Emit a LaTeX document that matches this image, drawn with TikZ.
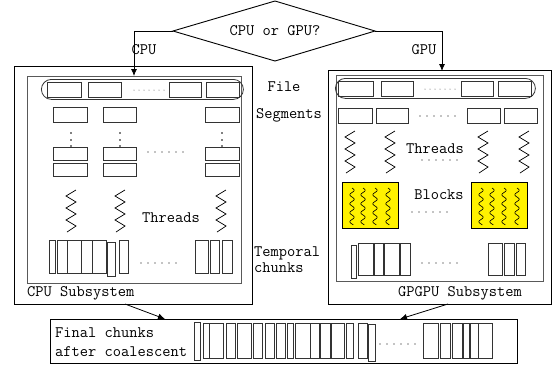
\documentclass[tikz,border=0pt]{standalone}
\usepackage{fontspec}
\usetikzlibrary{arrows.meta}
\newcommand\mycell[4]{\draw[cell] (#1,#2) rectangle (#3,#4);}
\newcommand\mywave[2]{\draw[line width=0.6pt] plot[domain=0:37,samples=60,smooth] ({#1+2.2*sin(\x*40)},{#2+\x});}
\newcommand\mydot[2]{\fill (#1,#2) circle (0.9pt);}
\begin{document}
\begin{tikzpicture}[x=1pt,y=-1pt,
  every node/.style={font=\ttfamily\fontsize{16}{18}\selectfont, inner sep=0pt},
  box/.style={draw, line width=0.9pt},
  inbox/.style={draw=black!65, line width=0.9pt},
  cell/.style={draw=black!80, line width=0.8pt},
  filerow/.style={draw=black!80, line width=0.8pt, rounded corners=10pt},
  dotrow/.style={line width=1.4pt, dash pattern=on 0pt off 7pt, line cap=round},
  smalldots/.style={line width=1pt, dash pattern=on 0pt off 5pt, line cap=round, black!70},
  arr/.style={line width=0.8pt, -{Latex[length=7pt,width=6pt]}},
  yel/.style={draw, fill=yellow, line width=0.8pt},
  zig/.pic={\draw[line width=0.7pt] (5,0) -- (-5,6) -- (5,12) -- (-5,18) -- (5,24) -- (-5,30) -- (5,36) -- (-4,42);},
]
\useasboundingbox (0,0) rectangle (555,368);
\fill[white] (0,0) rectangle (555,368);

% decision diamond
\coordinate (dl) at (173,31);
\coordinate (dt) at (275,1);
\coordinate (dr) at (375,31);
\coordinate (db) at (275,61);
\draw[box] (dl) -- (dt) -- (dr) -- (db) -- cycle;
\node (q) at (275,31) {CPU or GPU?};

% main boxes
\node[box, minimum width=238pt, minimum height=238pt, anchor=north west] (cpu) at (14,66) {};
\node[inbox, minimum width=214pt, minimum height=207pt, anchor=north west] (cpuin) at (27,76) {};
\node[box, minimum width=223pt, minimum height=234pt, anchor=north west] (gpu) at (328,70) {};
\node[inbox, minimum width=207pt, minimum height=206pt, anchor=north west] (gpuin) at (336,75) {};
\node[box, minimum width=467pt, minimum height=44pt, anchor=north west] (fin) at (50,319) {};

% connectors from decision
\coordinate (cpuentry) at (134,76);
\coordinate (gpuentry) at (442,71);
\draw[arr] (dl) -| (cpuentry);
\draw[arr] (dr) -| (gpuentry);
\node (cpulab) at (144,50) {CPU};
\node (gpulab) at (424,50) {GPU};

% middle labels
\node (lfile) at (284,87) {File};
\node (lseg) at (289,115) {Segments};
\node[anchor=west] (ltemp1) at (254,253) {Temporal};
\node[anchor=west] (ltemp2) at (254,268) {chunks};
\node[anchor=west] (lcpu) at (27,293) {CPU Subsystem};
\node[anchor=west] (lgpu) at (398,293) {GPGPU Subsystem};

% ---------------- CPU subsystem
\node[filerow, minimum width=202pt, minimum height=20pt, anchor=north west] (cfile) at (41,79) {};
\mycell{47}{82}{81}{97}\mycell{88}{82}{121}{97}\mycell{169}{82}{201}{97}\mycell{206}{82}{239}{97}
\draw[smalldots] (134,90) -- (164,90);
\foreach \a/\b in {53/87,103/136,205/239}{
  \mycell{\a}{107}{\b}{122}
  \mycell{\a}{147}{\b}{160}
  \mycell{\a}{163}{\b}{176}
}
\foreach \c in {71,120,222}{\mydot{\c}{133}\mydot{\c}{140}\mydot{\c}{146}}
\draw[dotrow] (148,152) -- (184,152);
\foreach \c in {71,120,221}{\pic at (\c,190) {zig};}
\node (cthr) at (171,218) {Threads};
\foreach \a/\b in {49/55,57/67,67/81,81/92,92/106,119/128,195/208,210/219,222/232}{\mycell{\a}{240}{\b}{273}}
\mycell{107}{242}{115}{276}
\draw[dotrow] (141,263) -- (177,263);

% ---------------- GPU subsystem
\node[filerow, minimum width=200pt, minimum height=20pt, anchor=north west] (gfile) at (335,78) {};
\mycell{338}{81}{373}{96}\mycell{381}{81}{413}{96}\mycell{461}{81}{493}{96}\mycell{498}{81}{531}{96}
\draw[smalldots] (425,89) -- (455,89);
\foreach \a/\b in {338/372,376/408,467/500,504/537}{\mycell{\a}{108}{\b}{123}}
\draw[dotrow] (420,116) -- (456,116);
\foreach \c in {350,390,483,524}{\pic at (\c,131) {zig};}
\node (gthr) at (435,149) {Threads};
\draw[dotrow] (422,160) -- (458,160);
\node[yel, minimum width=56pt, minimum height=46pt, anchor=north west] (blk1) at (342,182) {};
\node[yel, minimum width=56pt, minimum height=46pt, anchor=north west] (blk2) at (471,182) {};
\foreach \c in {352,363,375,388,481,492,504,517}{\mywave{\c}{188}}
\node (lblk) at (439,195) {Blocks};
\draw[dotrow] (412,212) -- (448,212);
\foreach \a/\b in {358/373,374/383,384/399,400/410,488/502,504/514,516/525}{\mycell{\a}{243}{\b}{275}}
\mycell{351}{245}{356}{278}
\draw[dotrow] (422,263) -- (458,263);

% ---------------- final chunks
\node[anchor=west] (ft1) at (55,333) {Final chunks};
\node[anchor=west] (ft2) at (55,352) {after coalescent};
\foreach \a/\b in {203/209,209/223,226/235,237/251,253/262,265/274,276/285,287/293,295/310,310/319,320/330,331/344,346/353,358/367,423/438,440/450,452/462,463/469,470/478,478/492}{\mycell{\a}{323}{\b}{358}}
\mycell{194}{322}{200}{360}
\mycell{368}{324}{375}{361}
\draw[dotrow] (380,344) -- (416,344);

% connectors to final
\coordinate (cpuexit) at (125,304);
\coordinate (finl) at (165,319);
\coordinate (gpuexit) at (448,304);
\coordinate (finr) at (400,319);
\draw[arr] (cpuexit) -- (finl);
\draw[arr] (gpuexit) -- (finr);
\end{tikzpicture}
\end{document}
